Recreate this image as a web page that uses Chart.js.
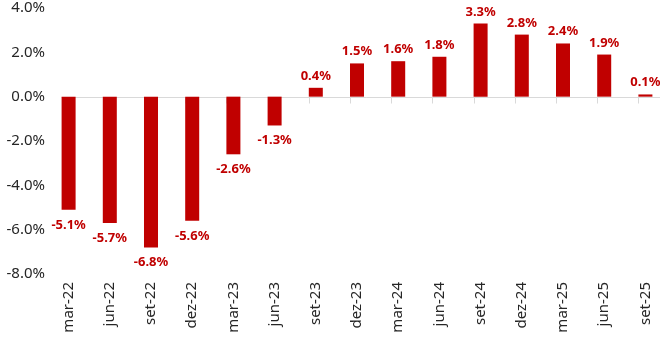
<!DOCTYPE html>
<html lang="pt">
<head>
    <meta charset="UTF-8">
    <title>Variação trimestral</title>
    <script src="https://cdn.jsdelivr.net/npm/chart.js"></script>
    <style>
        body { margin: 0; background: #fff; overflow: hidden; }
    </style>
</head>
<body>
<!-- canvas is a little wider than the window: the original plot runs past the right edge -->
<canvas id="chart" width="672" height="341"></canvas>

<script>
const quarters = ['mar-22', 'jun-22', 'set-22', 'dez-22', 'mar-23', 'jun-23', 'set-23', 'dez-23',
                  'mar-24', 'jun-24', 'set-24', 'dez-24', 'mar-25', 'jun-25', 'set-25'];
const changes = [-5.1, -5.7, -6.8, -5.6, -2.6, -1.3, 0.4, 1.5, 1.6, 1.8, 3.3, 2.8, 2.4, 1.9, 0.1];
const yTicks = [-8, -6, -4, -2, 0, 2, 4];

const red = '#C00000';
const fontFamily = '"Noto Sans", sans-serif';

// zero line with small ticks at each bar's left edge
const zeroLine = {
    id: 'zeroLine',
    beforeDatasetsDraw(chart) {
        const ctx = chart.ctx;
        const bars = chart.getDatasetMeta(0).data;
        const y0 = Math.round(chart.scales.y.getPixelForValue(0)) + 0.5;
        ctx.save();
        ctx.strokeStyle = '#D9D9D9';
        ctx.lineWidth = 1;
        ctx.beginPath();
        ctx.moveTo(bars[0].x - bars[0].width / 2, y0);
        ctx.lineTo(chart.width, y0);
        bars.forEach(b => {
            const x = Math.round(b.x - b.width / 2) + 0.5;
            ctx.moveTo(x, y0);
            ctx.lineTo(x, y0 + 6);
        });
        ctx.stroke();
        ctx.restore();
    }
};

// value labels above / below bars
const valueLabels = {
    id: 'valueLabels',
    afterDatasetsDraw(chart) {
        const ctx = chart.ctx;
        const bars = chart.getDatasetMeta(0).data;
        ctx.save();
        ctx.font = 'bold 13px ' + fontFamily;
        ctx.fillStyle = red;
        ctx.textAlign = 'center';
        ctx.textBaseline = 'alphabetic';
        bars.forEach((b, i) => {
            const v = changes[i];
            const txt = v.toFixed(1) + '%';
            const y = v >= 0 ? b.y - 8 : b.y + 19;
            ctx.fillText(txt, b.x, y);
        });
        ctx.restore();
    }
};

new Chart(document.getElementById('chart'), {
    type: 'bar',
    data: {
        labels: quarters,
        datasets: [{
            data: changes,
            backgroundColor: red,
            borderWidth: 0,
            categoryPercentage: 1,
            barPercentage: 0.34,
            clip: false
        }]
    },
    options: {
        responsive: false,
        animation: false,
        layout: { padding: { top: 8, right: 6, bottom: 0, left: 0 } },
        plugins: {
            legend: { display: false },
            tooltip: { enabled: false }
        },
        scales: {
            x: {
                offset: true,
                grid: { display: false, drawTicks: false },
                border: { display: false },
                ticks: {
                    autoSkip: false,
                    minRotation: 90,
                    maxRotation: 90,
                    padding: 8,
                    color: '#262626',
                    font: { family: fontFamily, size: 15 }
                },
                afterFit(scale) {
                    scale.height = 67;
                    scale.paddingLeft = 0;
                    scale.paddingRight = 0;
                }
            },
            y: {
                min: -8,
                max: 4,
                grid: { display: false, drawTicks: false },
                border: { display: false },
                afterBuildTicks(scale) { scale.ticks = yTicks.map(v => ({ value: v })); },
                ticks: {
                    padding: 3,
                    color: '#262626',
                    font: { family: fontFamily, size: 15 },
                    callback: v => v.toFixed(1) + '%'
                },
                afterFit(scale) {
                    scale.width = 48;
                    scale.paddingTop = 0;
                    scale.paddingBottom = 0;
                }
            }
        }
    },
    plugins: [zeroLine, valueLabels]
});
</script>
</body>
</html>
